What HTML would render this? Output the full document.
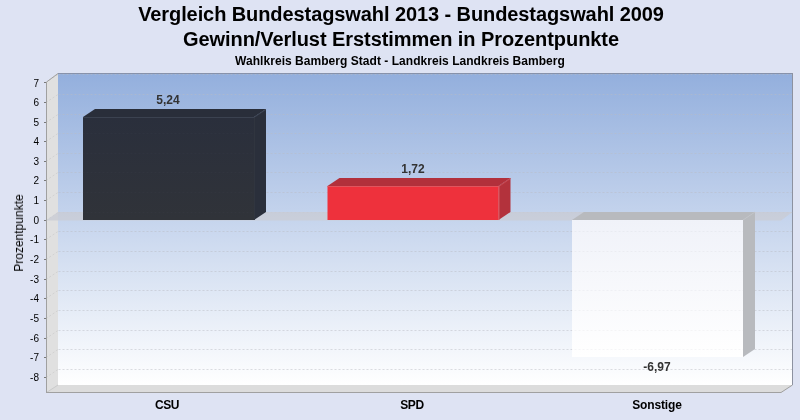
<!DOCTYPE html>
<html><head><meta charset="utf-8">
<style>
html,body{margin:0;padding:0;}
body{width:800px;height:420px;overflow:hidden;background:#dee3f3;font-family:"Liberation Sans",sans-serif;color:#000;position:relative;}
.t{position:absolute;white-space:nowrap;line-height:1;will-change:transform;}
.title{font-weight:bold;font-size:20px;left:0;width:800px;text-align:center;}
.sub{font-weight:bold;font-size:12px;left:0;width:800px;text-align:center;}
.yl{font-size:10px;text-align:right;width:30px;left:9.3px;}
.cat{font-weight:bold;font-size:12px;text-align:center;width:120px;}
.val{font-weight:bold;font-size:12px;text-align:center;width:80px;color:#333;}
svg{position:absolute;left:0;top:0;}
</style></head><body>
<svg width="800" height="420" viewBox="0 0 800 420">
<defs>
<linearGradient id="bg" x1="0" y1="0" x2="0" y2="1">
<stop offset="0" stop-color="#dee3f3"/><stop offset="1" stop-color="#dee3f3"/>
</linearGradient>
<linearGradient id="wall" x1="0" y1="0" x2="0" y2="1">
<stop offset="0" stop-color="#93afdd"/><stop offset="1" stop-color="#ffffff"/>
</linearGradient>
<linearGradient id="csu" x1="0" y1="0" x2="0" y2="1">
<stop offset="0" stop-color="#2a2f3c"/><stop offset="1" stop-color="#303339"/>
</linearGradient>
<linearGradient id="son" x1="0" y1="0" x2="0" y2="1">
<stop offset="0" stop-color="#f0f2f9"/><stop offset="1" stop-color="#ffffff"/>
</linearGradient>
<clipPath id="fronts"><rect x="572" y="220" width="171" height="137"/></clipPath><clipPath id="fronts2"><rect x="83" y="117" width="171" height="103"/></clipPath>
</defs>
<rect width="800" height="420" fill="url(#bg)"/>
<!-- back wall -->
<rect x="58" y="73" width="734.5" height="312" fill="url(#wall)"/>
<!-- left side wall -->
<polygon points="46,82 58,73 58,385 46,393" fill="#e0e0e0"/>
<!-- floor -->
<polygon points="46,393 58,385 792.5,385 781,393" fill="#dcdcdc"/>
<path d="M46.5,392.5 L58,385" stroke="#cacaca" stroke-width="1" fill="none"/>
<!-- gridlines back wall -->
<g stroke="rgba(185,188,196,0.5)" stroke-width="1" stroke-dasharray="2,2" fill="none">
<line x1="58.5" x2="792" y1="74.5" y2="74.5"/>
<line x1="58.5" x2="792" y1="94.5" y2="94.5"/>
<line x1="58.5" x2="792" y1="114.5" y2="114.5"/>
<line x1="58.5" x2="792" y1="133.5" y2="133.5"/>
<line x1="58.5" x2="792" y1="153.5" y2="153.5"/>
<line x1="58.5" x2="792" y1="172.5" y2="172.5"/>
<line x1="58.5" x2="792" y1="192.5" y2="192.5"/>
<line x1="58.5" x2="792" y1="212.5" y2="212.5"/>
<line x1="58.5" x2="792" y1="231.5" y2="231.5"/>
<line x1="58.5" x2="792" y1="251.5" y2="251.5"/>
<line x1="58.5" x2="792" y1="271.5" y2="271.5"/>
<line x1="58.5" x2="792" y1="290.5" y2="290.5"/>
<line x1="58.5" x2="792" y1="310.5" y2="310.5"/>
<line x1="58.5" x2="792" y1="330.5" y2="330.5"/>
<line x1="58.5" x2="792" y1="349.5" y2="349.5"/>
<line x1="58.5" x2="792" y1="369.5" y2="369.5"/>
</g>
<g stroke="#d2d2d2" stroke-width="1" stroke-dasharray="2,2" fill="none">
<line x1="46" x2="58" y1="82.5" y2="74.5"/>
<line x1="46" x2="58" y1="102.5" y2="94.5"/>
<line x1="46" x2="58" y1="122.5" y2="114.5"/>
<line x1="46" x2="58" y1="141.5" y2="133.5"/>
<line x1="46" x2="58" y1="161.5" y2="153.5"/>
<line x1="46" x2="58" y1="180.5" y2="172.5"/>
<line x1="46" x2="58" y1="200.5" y2="192.5"/>
<line x1="46" x2="58" y1="220.5" y2="212.5"/>
<line x1="46" x2="58" y1="239.5" y2="231.5"/>
<line x1="46" x2="58" y1="259.5" y2="251.5"/>
<line x1="46" x2="58" y1="279.5" y2="271.5"/>
<line x1="46" x2="58" y1="298.5" y2="290.5"/>
<line x1="46" x2="58" y1="318.5" y2="310.5"/>
<line x1="46" x2="58" y1="338.5" y2="330.5"/>
<line x1="46" x2="58" y1="357.5" y2="349.5"/>
<line x1="46" x2="58" y1="377.5" y2="369.5"/>
</g>
<!-- wall border -->
<path d="M58,73.5 H792.5" stroke="#8792aa" stroke-width="1" fill="none"/>
<path d="M792.5,73 V385" stroke="#8d92a0" stroke-width="1" fill="none"/>
<!-- zero plane -->
<polygon points="46,220.5 58,212 792.5,212 781,220.5" fill="rgba(201,204,213,0.8)"/>
<!-- axes -->
<path d="M46.5,82 L58,73.5 M46.5,82 V393 M46,392.5 H781 L792.5,385" stroke="#a0a0a0" stroke-width="1" fill="none"/>
<g stroke="#787878" stroke-width="1">
<line x1="44" x2="46" y1="82.5" y2="82.5"/>
<line x1="44" x2="46" y1="102.5" y2="102.5"/>
<line x1="44" x2="46" y1="122.5" y2="122.5"/>
<line x1="44" x2="46" y1="141.5" y2="141.5"/>
<line x1="44" x2="46" y1="161.5" y2="161.5"/>
<line x1="44" x2="46" y1="180.5" y2="180.5"/>
<line x1="44" x2="46" y1="200.5" y2="200.5"/>
<line x1="44" x2="46" y1="220.5" y2="220.5"/>
<line x1="44" x2="46" y1="239.5" y2="239.5"/>
<line x1="44" x2="46" y1="259.5" y2="259.5"/>
<line x1="44" x2="46" y1="279.5" y2="279.5"/>
<line x1="44" x2="46" y1="298.5" y2="298.5"/>
<line x1="44" x2="46" y1="318.5" y2="318.5"/>
<line x1="44" x2="46" y1="338.5" y2="338.5"/>
<line x1="44" x2="46" y1="357.5" y2="357.5"/>
<line x1="44" x2="46" y1="377.5" y2="377.5"/>
</g>
<!-- CSU bar -->
<polygon points="83,117 95,109 266,109 254,117" fill="#292e3a"/>
<polygon points="254,117 266,109 266,212 254,220" fill="#2a2f3b"/>
<rect x="83" y="117" width="171" height="103" fill="url(#csu)"/>
<path d="M83,117.5 H254 M254,117.5 L266,109.5" stroke="#3b4250" stroke-width="1" fill="none"/>
<path d="M254.5,118 V220" stroke="#30353f" stroke-width="1" fill="none"/>
<!-- SPD bar -->
<polygon points="327.5,186 339.5,178 510.5,178 498.5,186" fill="#b2303b"/>
<polygon points="498.5,186 510.5,178 510.5,212 498.5,220" fill="#b3323c"/>
<rect x="327.5" y="186" width="171" height="34" fill="#ee313c"/>
<path d="M327.5,186.5 H499 M499,186 V220" stroke="#e2545d" stroke-width="1" fill="none"/>
<path d="M499,186.5 L510.5,178.5" stroke="#cc4852" stroke-width="0.9" fill="none"/>
<!-- Sonstige bar -->
<polygon points="572,220 584,212 755,212 743,220" fill="#b8babe"/>
<polygon points="743,220 755,212 755,349 743,357" fill="#b8babe"/>
<rect x="572" y="220" width="171" height="137" fill="url(#son)"/>
<path d="M743,220 L755,212" stroke="#c2c4c8" stroke-width="1" fill="none"/>
<g clip-path="url(#fronts)" stroke="rgba(150,155,165,0.09)" stroke-width="1" stroke-dasharray="2,2" fill="none">
<line x1="58.5" x2="792" y1="74.5" y2="74.5"/>
<line x1="58.5" x2="792" y1="94.5" y2="94.5"/>
<line x1="58.5" x2="792" y1="114.5" y2="114.5"/>
<line x1="58.5" x2="792" y1="133.5" y2="133.5"/>
<line x1="58.5" x2="792" y1="153.5" y2="153.5"/>
<line x1="58.5" x2="792" y1="172.5" y2="172.5"/>
<line x1="58.5" x2="792" y1="192.5" y2="192.5"/>
<line x1="58.5" x2="792" y1="212.5" y2="212.5"/>
<line x1="58.5" x2="792" y1="231.5" y2="231.5"/>
<line x1="58.5" x2="792" y1="251.5" y2="251.5"/>
<line x1="58.5" x2="792" y1="271.5" y2="271.5"/>
<line x1="58.5" x2="792" y1="290.5" y2="290.5"/>
<line x1="58.5" x2="792" y1="310.5" y2="310.5"/>
<line x1="58.5" x2="792" y1="330.5" y2="330.5"/>
<line x1="58.5" x2="792" y1="349.5" y2="349.5"/>
<line x1="58.5" x2="792" y1="369.5" y2="369.5"/>
</g>
<g clip-path="url(#fronts2)" stroke="rgba(150,155,165,0.035)" stroke-width="1" stroke-dasharray="2,2" fill="none">
<line x1="58.5" x2="792" y1="74.5" y2="74.5"/>
<line x1="58.5" x2="792" y1="94.5" y2="94.5"/>
<line x1="58.5" x2="792" y1="114.5" y2="114.5"/>
<line x1="58.5" x2="792" y1="133.5" y2="133.5"/>
<line x1="58.5" x2="792" y1="153.5" y2="153.5"/>
<line x1="58.5" x2="792" y1="172.5" y2="172.5"/>
<line x1="58.5" x2="792" y1="192.5" y2="192.5"/>
<line x1="58.5" x2="792" y1="212.5" y2="212.5"/>
<line x1="58.5" x2="792" y1="231.5" y2="231.5"/>
<line x1="58.5" x2="792" y1="251.5" y2="251.5"/>
<line x1="58.5" x2="792" y1="271.5" y2="271.5"/>
<line x1="58.5" x2="792" y1="290.5" y2="290.5"/>
<line x1="58.5" x2="792" y1="310.5" y2="310.5"/>
<line x1="58.5" x2="792" y1="330.5" y2="330.5"/>
<line x1="58.5" x2="792" y1="349.5" y2="349.5"/>
<line x1="58.5" x2="792" y1="369.5" y2="369.5"/>
</g>
</svg>
<div class="t title" style="top:4px;left:1px;letter-spacing:-0.088px;">Vergleich Bundestagswahl 2013 - Bundestagswahl 2009</div>
<div class="t title" style="top:29px;left:0.5px;letter-spacing:-0.07px;">Gewinn/Verlust Erststimmen in Prozentpunkte</div>
<div class="t sub" style="top:55px;left:-0.3px;letter-spacing:0.04px;">Wahlkreis Bamberg Stadt - Landkreis Landkreis Bamberg</div>
<div class="t" id="ylab" style="font-size:12px;left:18.7px;top:232.7px;transform-origin:0 0;transform:rotate(-90deg) translate(-50%,-50%);">Prozentpunkte</div>
<div class="t yl" style="top:79.3px;">7</div>
<div class="t yl" style="top:98.0px;">6</div>
<div class="t yl" style="top:118.0px;">5</div>
<div class="t yl" style="top:137.0px;">4</div>
<div class="t yl" style="top:157.0px;">3</div>
<div class="t yl" style="top:176.0px;">2</div>
<div class="t yl" style="top:196.0px;">1</div>
<div class="t yl" style="top:216.0px;">0</div>
<div class="t yl" style="top:235.0px;">-1</div>
<div class="t yl" style="top:255.0px;">-2</div>
<div class="t yl" style="top:275.0px;">-3</div>
<div class="t yl" style="top:294.0px;">-4</div>
<div class="t yl" style="top:314.0px;">-5</div>
<div class="t yl" style="top:334.0px;">-6</div>
<div class="t yl" style="top:353.0px;">-7</div>
<div class="t yl" style="top:373.0px;">-8</div>
<div class="t cat" style="left:107.3px;top:398.8px;letter-spacing:-0.5px;">CSU</div>
<div class="t cat" style="left:352.2px;top:398.8px;letter-spacing:-0.4px;">SPD</div>
<div class="t cat" style="left:597.4px;top:399px;letter-spacing:-0.15px;">Sonstige</div>
<div class="t val" style="left:127.5px;top:94px;">5,24</div>
<div class="t val" style="left:373px;top:163px;">1,72</div>
<div class="t val" style="left:617px;top:361px;">-6,97</div>
</body></html>
